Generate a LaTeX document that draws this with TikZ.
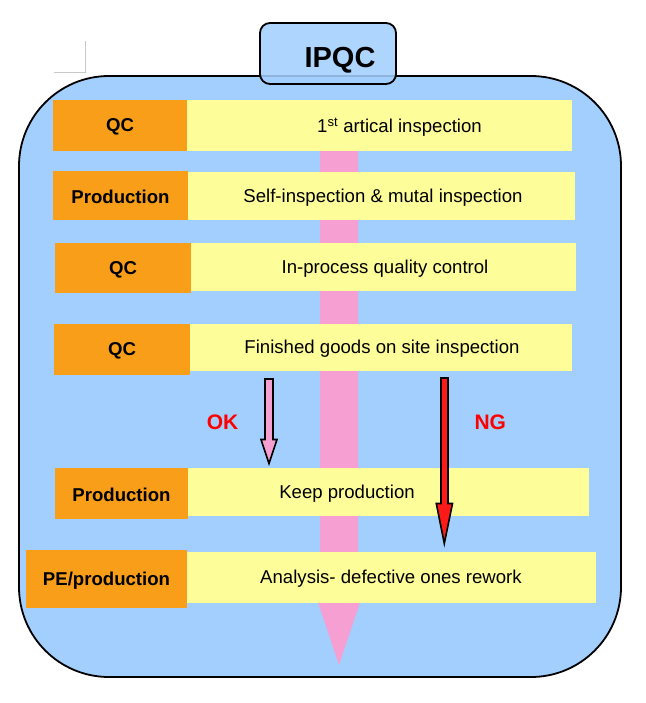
\documentclass[tikz,border=0pt]{standalone}
\usepackage{fontspec}
\setmainfont{Liberation Sans}
\definecolor{bluef}{HTML}{A3CFFE}
\definecolor{yellowc}{HTML}{FDFD99}
\definecolor{orangec}{HTML}{F89E19}
\definecolor{pinkc}{HTML}{F59FD2}
\definecolor{redc}{HTML}{FF1A1A}
\definecolor{redt}{HTML}{FF0000}
\definecolor{markc}{HTML}{C8C8C8}
\begin{document}
\begin{tikzpicture}[x=1pt,y=-1pt,
  box/.style={inner sep=0pt, outer sep=0pt, anchor=north west, draw=none},
  obox/.style={box, fill=orangec},
  ybox/.style={box, fill=yellowc},
  lab/.style={inner sep=0pt, yshift=-1.5pt, font=\fontsize{18.6}{20}\selectfont\bfseries},
  txt/.style={inner sep=0pt, font=\fontsize{18.6}{20}\selectfont},
  sig/.style={inner sep=0pt, text=redt, font=\fontsize{21}{23}\selectfont\bfseries},
  arr/.style={draw=black, line width=1.6pt, line join=miter}]
\useasboundingbox (0,0) rectangle (645,703);
% corner marks
\coordinate (m1) at (54,72.3);
\coordinate (m2) at (85.7,72.3);
\coordinate (m3) at (85.7,41);
\draw[markc, line width=0.8pt] (m1) -- (m2) -- (m3);
% main container
\draw[line width=1.8pt, fill=bluef, rounded corners=90pt] (19,76) rectangle (621,677);
% tab
\node[box, draw=black, line width=1.8pt, fill=bluef, fill opacity=0.88, rounded corners=10pt,
  minimum width=136pt, minimum height=61pt] (tab) at (260,23) {};
\node[inner sep=0pt, font=\fontsize{29}{31}\selectfont\bfseries] (tabt) at (340,60.5) {IPQC};
% pink flow arrow
\fill[pinkc] (320,110) -- (358,110) -- (358,552) -- (377,552) -- (339,665) -- (301,552) -- (320,552) -- cycle;
% row 1
\node[obox, minimum width=134pt, minimum height=50.7pt] (o1) at (53,100) {};
\node[ybox, minimum width=385pt, minimum height=50.7pt] (y1) at (187,100) {};
\node[lab] (l1) at (o1.center) {QC};
\node[txt] (t1) at (399.5,127.5) {1\textsuperscript{st} artical inspection};
% row 2
\node[obox, minimum width=135pt, minimum height=49.5pt] (o2) at (53,171) {};
\node[ybox, minimum width=387pt, minimum height=48.5pt] (y2) at (188,172) {};
\node[lab] (l2) at (o2.center) {Production};
\node[txt] (t2) at (383,197.5) {Self-inspection \& mutal inspection};
% row 3
\node[obox, minimum width=136pt, minimum height=49.7pt] (o3) at (55,243) {};
\node[ybox, minimum width=385pt, minimum height=47.7pt] (y3) at (191,243) {};
\node[lab] (l3) at (o3.center) {QC};
\node[txt] (t3) at (385,268.5) {In-process quality control};
% row 4
\node[obox, minimum width=136pt, minimum height=51pt] (o4) at (54,323.7) {};
\node[ybox, minimum width=382pt, minimum height=47pt] (y4) at (190,323.7) {};
\node[lab] (l4) at (o4.center) {QC};
\node[txt] (t4) at (382,349) {Finished goods on site inspection};
% row 5
\node[obox, minimum width=133pt, minimum height=51pt] (o5) at (55,467.7) {};
\node[ybox, minimum width=401pt, minimum height=48pt] (y5) at (188,467.7) {};
\node[lab] (l5) at (o5.center) {Production};
\node[txt] (t5) at (347,493.5) {Keep production};
% row 6
\node[obox, minimum width=161pt, minimum height=57.7pt] (o6) at (26,550) {};
\node[ybox, minimum width=409pt, minimum height=50.7pt] (y6) at (187,552) {};
\node[lab] (l6) at (o6.center) {PE/production};
\node[txt] (t6) at (391,579) {Analysis- defective ones rework};
% OK / NG arrows
\draw[arr, fill=pinkc] (265,379) -- (273,379) -- (273,439.5) -- (277,439.5) -- (269,463.5) -- (261,439.5) -- (265,439.5) -- cycle;
\draw[arr, fill=redc] (441,378) -- (448,378) -- (448,503.5) -- (452.5,503.5) -- (444.3,543.5) -- (436.3,503.5) -- (441,503.5) -- cycle;
\node[sig] (ok) at (222.5,422.5) {OK};
\node[sig] (ng) at (490.3,422) {NG};
\end{tikzpicture}
\end{document}
